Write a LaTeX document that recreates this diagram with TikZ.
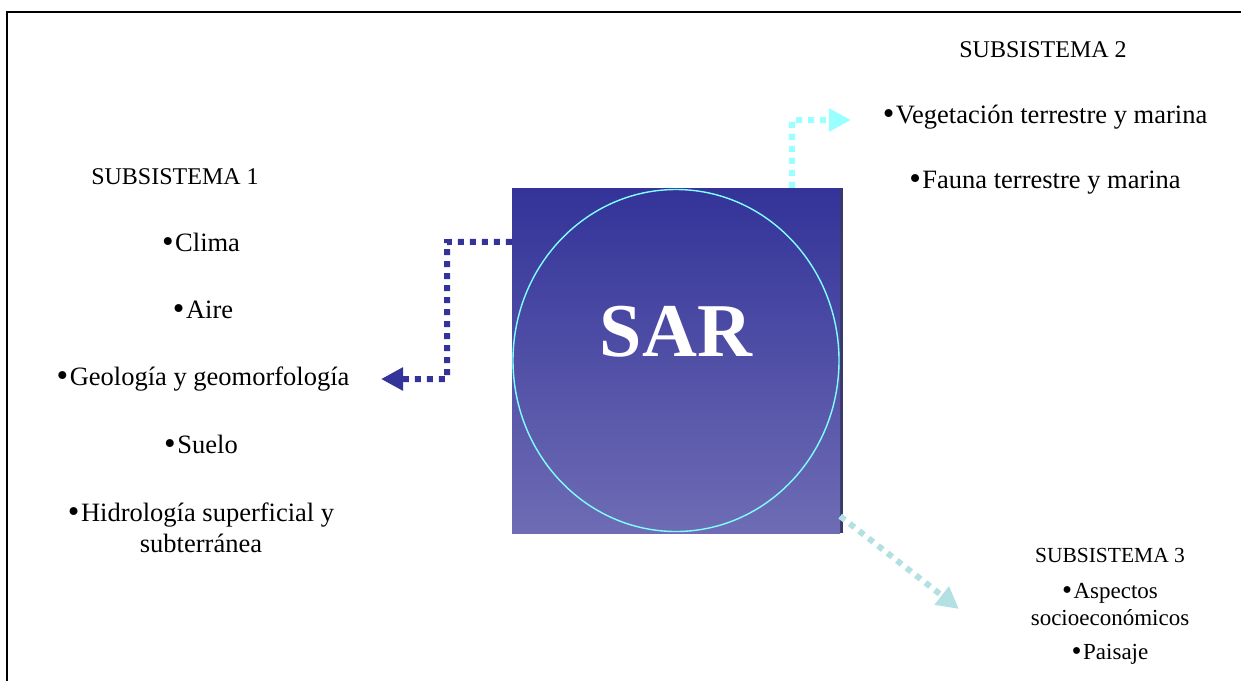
\documentclass[tikz,border=0pt]{standalone}
\usepackage{fontspec}
\setmainfont{Liberation Serif}
\usetikzlibrary{arrows.meta,shapes.geometric}
\definecolor{sardark}{HTML}{333399}
\definecolor{sarlight}{HTML}{6E6CB4}
\definecolor{ringcyan}{HTML}{80FFFF}
\definecolor{arrcyan}{HTML}{99FFFF}
\definecolor{arrteal}{HTML}{B3E0E3}
\definecolor{shadowc}{HTML}{3A3A6A}
\newcommand\bul{\raisebox{-0.04em}{\scalebox{1.25}{•}}\kern0.06em}
\tikzset{
  lbl/.style={inner sep=0pt, align=center, font=\fontsize{26.5}{31}\selectfont},
  head/.style={inner sep=0pt, font=\fontsize{24}{28}\selectfont},
  head3/.style={inner sep=0pt, font=\fontsize{21.5}{26}\selectfont},
  small/.style={inner sep=0pt, align=center, font=\fontsize{23}{27}\selectfont},
  dotline/.style={line width=6pt, dash pattern=on 6pt off 6pt},
  tip/.style={-{Triangle[length=22pt,width=22pt]}},
}
\begin{document}
\begin{tikzpicture}[x=1pt,y=-1pt]
\useasboundingbox (0,0) rectangle (1241,681);
% frame
\draw[line width=2pt] (1241,12) -- (7,12) -- (7,681);
% central square
\fill[shadowc] (515,188) rectangle (843,533);
\node[minimum width=328pt, minimum height=345pt, inner sep=0pt, top color=sardark, bottom color=sarlight, shading angle=0] (sar) at (676,360.5) {};
\node[draw=ringcyan, line width=1.4pt, ellipse, minimum width=326pt, minimum height=342pt, inner sep=0pt] (ring) at (676,360.5) {};
\node[inner sep=0pt, text=white, font=\fontsize{76}{76}\selectfont\bfseries] (sartxt) at (676,332) {SAR};
% subsistema 1
\node[head] (s1) at (175,177) {SUBSISTEMA 1};
\node[lbl] (clima) at (201,243) {\bul Clima};
\node[lbl] (aire) at (203,310) {\bul Aire};
\node[lbl] (geo) at (203,379) {\bul Geología y geomorfología};
\node[lbl] (suelo) at (201,445) {\bul Suelo};
\node[lbl] (hidro) at (201,528) {\bul Hidrología superficial y\\subterránea};
% subsistema 2
\node[head] (s2) at (1043,50) {SUBSISTEMA 2};
\node[lbl] (veg) at (1045,117) {\bul Vegetación terrestre y marina};
\node[lbl] (fauna) at (1045,183) {\bul Fauna terrestre y marina};
% subsistema 3
\node[head3] (s3) at (1110,555) {SUBSISTEMA 3};
\node[small] (asp) at (1110,605) {\bul Aspectos\\socioeconómicos};
\node[small] (pai) at (1110,654) {\bul Paisaje};
% connectors
\coordinate (c1) at (447,242);
\coordinate (t1) at (381,379);
\draw[dotline, sardark, tip] ([yshift=-54pt]sar.north west) -- (c1) |- (t1);
\coordinate (c2) at (792,120);
\coordinate (t2) at (851,120);
\draw[dotline, arrcyan, tip] ([xshift=280pt]sar.north west) -- (c2) -- (t2);
\coordinate (t3) at (959,609);
\draw[dotline, arrteal, tip] ([yshift=17pt]sar.south east) -- (t3);
\end{tikzpicture}
\end{document}
